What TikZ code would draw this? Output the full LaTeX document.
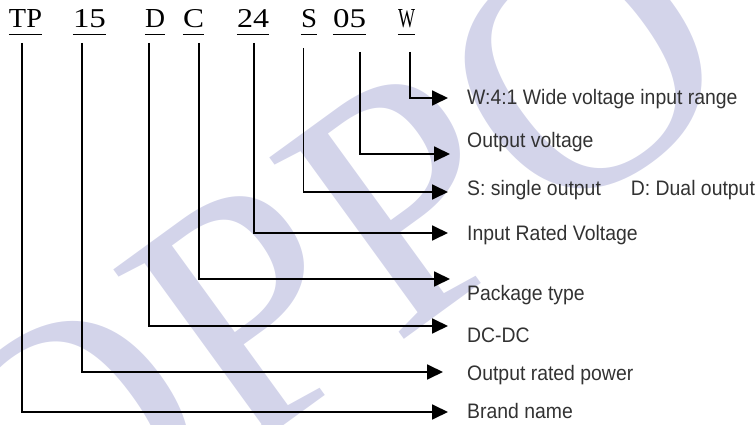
\documentclass[tikz,border=0pt]{standalone}
\usepackage{fontspec}
\setmainfont{Liberation Serif}
\newfontfamily\labelfont{Liberation Sans}
\usetikzlibrary{arrows.meta}
\definecolor{wmcol}{RGB}{211,212,234}
\definecolor{txtcol}{RGB}{50,50,50}
\newcommand\mkcode[2]{\resizebox{#1pt}{18pt}{#2}}
\newcommand\mklab[1]{\scalebox{1}[1.08]{#1}}
\tikzset{
  wm/.style={inner sep=0pt, text=wmcol, rotate=36,
    font=\fontsize{345}{345}\selectfont},
  code/.style={inner sep=0pt, anchor=base},
  uline/.style={line width=1.8pt},
  lab/.style={inner sep=0pt, anchor=base west, text=txtcol,
    font=\labelfont\fontsize{19.4}{22}\selectfont},
  conn/.style={line width=1.8pt, -{Triangle[length=16pt,width=15pt]}}
}
\begin{document}
\begin{tikzpicture}[x=1pt,y=-1pt]
\useasboundingbox (0,0) rectangle (756,425);
\node[wm] (wm) at (328,255) {OPPO};
% codes
\node[code] (tp)  at (25.5,28)  {\mkcode{33}{TP}};
\node[code] (p15) at (89.5,28)  {\mkcode{33}{15}};
\node[code] (d)   at (155,28)   {\mkcode{20}{D}};
\node[code] (c)   at (193.5,28) {\mkcode{21}{C}};
\node[code] (v24) at (253,28)   {\mkcode{32}{24}};
\node[code] (s)   at (309,28)   {\mkcode{16}{S}};
\node[code] (v05) at (349.5,28) {\mkcode{33}{05}};
\node[code] (w)   at (406.5,28) {\mkcode{17}{W}};
\foreach \n in {tp,p15,d,c,v24,s,v05,w}
  \draw[uline] ([yshift=-6.5pt]\n.base west) -- ([yshift=-6.5pt]\n.base east);
% labels
\node[lab] (lw)   at (467,105) {\mklab{W:4:1 Wide voltage input range}};
\node[lab] (l05)  at (467,148) {\mklab{Output voltage}};
\node[lab] (ls)   at (467,196) {\mklab{S: single output\hspace{30pt}D: Dual output}};
\node[lab] (l24)  at (467,241) {\mklab{Input Rated Voltage}};
\node[lab] (lc)   at (467,300) {\mklab{Package type}};
\node[lab] (ld)   at (467,342) {\mklab{DC-DC}};
\node[lab] (l15)  at (467,380) {\mklab{Output rated power}};
\node[lab] (ltp)  at (467,418) {\mklab{Brand name}};
% connector ends
\coordinate (tp-t)  at (21.7,43);  \coordinate (tp-e)  at (448,412);
\coordinate (p15-t) at (81.7,43);  \coordinate (p15-e) at (443,372);
\coordinate (d-t)   at (149,43);   \coordinate (d-e)   at (448,326);
\coordinate (c-t)   at (199,43);   \coordinate (c-e)   at (450,279);
\coordinate (v24-t) at (254,43);   \coordinate (v24-e) at (448,233);
\coordinate (s-t)   at (303.5,48); \coordinate (s-e)   at (448,192);
\coordinate (v05-t) at (360,52);   \coordinate (v05-e) at (450,154);
\coordinate (w-t)   at (410,52);   \coordinate (w-e)   at (448,98);
\foreach \n in {tp,p15,d,c,v24,s,v05,w}
  \draw[conn] (\n-t) |- (\n-e);
\end{tikzpicture}
\end{document}
